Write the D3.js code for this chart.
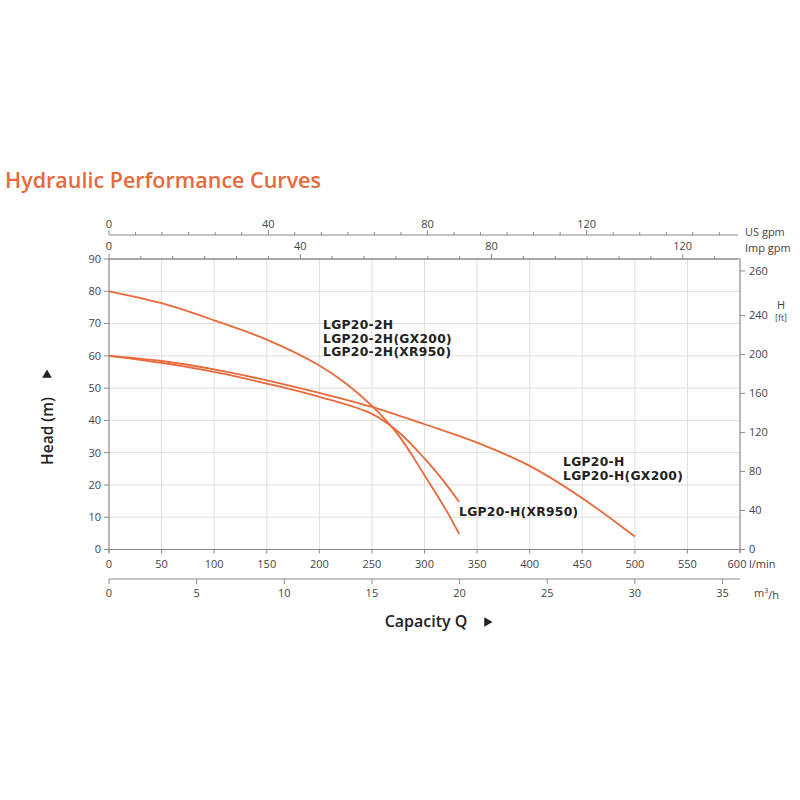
<!DOCTYPE html>
<html>
<head>
<meta charset="utf-8">
<script src="https://cdn.jsdelivr.net/npm/d3@7"></script>
<style>
  html, body { margin: 0; padding: 0; background: #fff; }
  svg { display: block; font-family: "Open Sans", "DejaVu Sans", sans-serif; }
</style>
</head>
<body>
<div id="chart"></div>
<script>
// Flow points (l/min) and heads (m)
const flow2H = [0, 50, 100, 150, 200, 225, 250, 275, 300, 320, 333];
const head2H = [80, 76.3, 71, 65, 57, 51.5, 44.5, 35.5, 23, 12.5, 4.8];

const flowXR950 = [0, 50, 100, 150, 200, 250, 275, 300, 320, 333];
const headXR950 = [60, 57.8, 55, 51.4, 47.3, 42, 36.5, 28.2, 20.4, 14.7];

const flowH = [0, 50, 100, 150, 200, 250, 300, 350, 400, 450, 500];
const headH = [60, 58.4, 55.8, 52.4, 48.5, 44.2, 38.8, 33.1, 25.9, 15.9, 4];

// Axis ticks
const lminTicks = [0, 50, 100, 150, 200, 250, 300, 350, 400, 450, 500, 550, 600];
const m3hTicks = [0, 5, 10, 15, 20, 25, 30, 35];
const headTicks = [0, 10, 20, 30, 40, 50, 60, 70, 80, 90];
const ftTicks = [0, 40, 80, 120, 160, 200, 240, 260];
const usGpmTicks = [0, 40, 80, 120];
const impGpmTicks = [0, 40, 80, 120];

const labels2H = ['LGP20-2H', 'LGP20-2H(GX200)', 'LGP20-2H(XR950)'];
const labelsH = ['LGP20-H', 'LGP20-H(GX200)'];
const labelXR = 'LGP20-H(XR950)';

const ORANGE = '#e8693a';
const AXIS = '#8a8a8a';
const GRID = '#dedede';
const TEXT = '#444';

const width = 800, height = 800;
const svg = d3.select('#chart').append('svg')
    .attr('width', width)
    .attr('height', height);

const x = d3.scaleLinear().domain([0, 600]).range([109, 740]);
const y = d3.scaleLinear().domain([0, 90]).range([549.5, 259]);

// unit conversions for the secondary axes
const M3H_TO_LMIN = 1000 / 60;
const USGPM_TO_LMIN = 3.785;
const IMPGPM_TO_LMIN = 4.546;
const FT_TO_M = 0.3048;

const xM3h = d3.scaleLinear().domain([0, 600 / M3H_TO_LMIN]).range(x.range());
const xUs = d3.scaleLinear().domain([0, 600 / USGPM_TO_LMIN]).range(x.range());
const xImp = d3.scaleLinear().domain([0, 600 / IMPGPM_TO_LMIN]).range(x.range());
// the 260 ft label sits near the top edge in the original sheet
const yFt = d3.scaleLinear().domain([0, 240, 260])
    .range([y(0), y(240 * FT_TO_M) + 2, y(86.3)]);

// Title
svg.append('text')
    .attr('x', 5)
    .attr('y', 188)
    .attr('fill', ORANGE)
    .attr('font-size', '21.5px')
    .attr('font-weight', 600)
    .text('Hydraulic Performance Curves');

// Grid
const grid = svg.append('g');
lminTicks.slice(1, -1).forEach(t => {
    grid.append('line')
        .attr('x1', x(t)).attr('x2', x(t))
        .attr('y1', y(0)).attr('y2', y(90))
        .attr('stroke', GRID).attr('stroke-width', 1);
});
headTicks.slice(1, -1).forEach(t => {
    grid.append('line')
        .attr('x1', x(0)).attr('x2', x(600))
        .attr('y1', y(t)).attr('y2', y(t))
        .attr('stroke', GRID).attr('stroke-width', 1);
});

// Frame lines
const frame = svg.append('g').attr('stroke', AXIS).attr('stroke-width', 1.2);
frame.append('line').attr('x1', x(0)).attr('x2', x(0)).attr('y1', y(90)).attr('y2', y(0) + 3);
frame.append('line').attr('x1', x(600)).attr('x2', x(600)).attr('y1', y(90)).attr('y2', y(0) + 3);
frame.append('line').attr('x1', x(0)).attr('x2', x(600)).attr('y1', y(0)).attr('y2', y(0));
frame.append('line').attr('x1', x(0)).attr('x2', x(600)).attr('y1', y(90)).attr('y2', y(90));

function tickText(g, tx, ty, str, anchor) {
    g.append('text')
        .attr('x', tx).attr('y', ty)
        .attr('text-anchor', anchor || 'middle')
        .attr('dy', '0.35em')
        .attr('fill', TEXT)
        .attr('font-size', '11px')
        .text(str);
}

// Left axis: Head (m)
const left = svg.append('g');
headTicks.forEach(t => {
    left.append('line')
        .attr('x1', x(0) - 5).attr('x2', x(0))
        .attr('y1', y(t)).attr('y2', y(t))
        .attr('stroke', AXIS);
    tickText(left, x(0) - 8, y(t), t, 'end');
});

// Right axis: H (ft)
const right = svg.append('g');
ftTicks.forEach(t => {
    right.append('line')
        .attr('x1', x(600)).attr('x2', x(600) + 5)
        .attr('y1', yFt(t)).attr('y2', yFt(t))
        .attr('stroke', AXIS);
    tickText(right, x(600) + 9, yFt(t), t, 'start');
});
right.append('text')
    .attr('x', 781).attr('y', 309)
    .attr('text-anchor', 'middle')
    .attr('fill', TEXT).attr('font-size', '11px')
    .text('H');
right.append('text')
    .attr('x', 781).attr('y', 321)
    .attr('text-anchor', 'middle')
    .attr('fill', TEXT).attr('font-size', '9px')
    .text('[ft]');

// Bottom axis: l/min
const bottom = svg.append('g');
lminTicks.forEach(t => {
    bottom.append('line')
        .attr('x1', x(t)).attr('x2', x(t))
        .attr('y1', y(0)).attr('y2', y(0) + 4)
        .attr('stroke', AXIS);
    tickText(bottom, t === 600 ? x(t) - 3 : x(t), 564, t);
});
bottom.append('text')
    .attr('x', x(600) + 9).attr('y', 564)
    .attr('dy', '0.35em')
    .attr('fill', TEXT).attr('font-size', '11px')
    .text('l/min');

// Second bottom axis: m3/h
const m3Y = 579;
const m3 = svg.append('g');
m3.append('line')
    .attr('x1', xM3h(0)).attr('x2', x(600))
    .attr('y1', m3Y).attr('y2', m3Y)
    .attr('stroke', AXIS).attr('stroke-width', 1.2);
m3hTicks.forEach(t => {
    m3.append('line')
        .attr('x1', xM3h(t)).attr('x2', xM3h(t))
        .attr('y1', m3Y).attr('y2', m3Y + 5)
        .attr('stroke', AXIS);
    tickText(m3, xM3h(t), 593, t);
});
const m3Label = m3.append('text')
    .attr('x', 754).attr('y', 593)
    .attr('dy', '0.35em')
    .attr('fill', TEXT).attr('font-size', '11px');
m3Label.append('tspan').text('m');
m3Label.append('tspan').attr('font-size', '7px').attr('dy', '-0.5em').text('3');
m3Label.append('tspan').attr('dy', '0.5em').text('/h');

// Top axes: US gpm and Imp gpm
function topAxis(scale, majors, axisY, labelY, unit, unitY) {
    const g = svg.append('g');
    g.append('line')
        .attr('x1', scale(0)).attr('x2', x(600) - 2)
        .attr('y1', axisY).attr('y2', axisY)
        .attr('stroke', AXIS).attr('stroke-width', 1.2);
    const step = 40 / 6;
    const maxV = scale.domain()[1];
    for (let i = 0; i * step <= maxV; i++) {
        const v = i * step;
        const major = i % 6 === 0;
        g.append('line')
            .attr('x1', scale(v)).attr('x2', scale(v))
            .attr('y1', axisY).attr('y2', axisY - (major ? 5 : 3))
            .attr('stroke', AXIS);
    }
    majors.forEach(t => tickText(g, scale(t), labelY, t));
    g.append('text')
        .attr('x', 745).attr('y', unitY)
        .attr('dy', '0.35em')
        .attr('fill', TEXT).attr('font-size', '11px')
        .text(unit);
}
topAxis(xUs, usGpmTicks, 235, 224, 'US gpm', 232);
topAxis(xImp, impGpmTicks, y(90), 246, 'Imp gpm', 248);

// Curves
const line = d3.line()
    .x(d => x(d[0]))
    .y(d => y(d[1]))
    .curve(d3.curveCatmullRom.alpha(0.5));

const curves = [
    d3.zip(flow2H, head2H),
    d3.zip(flowXR950, headXR950),
    d3.zip(flowH, headH)
];
svg.append('g').selectAll('path')
    .data(curves)
    .enter().append('path')
    .attr('d', line)
    .attr('fill', 'none')
    .attr('stroke', ORANGE)
    .attr('stroke-width', 1.8);

// Curve labels
function labelBlock(lines, lx, ly, lh) {
    const t = svg.append('text')
        .attr('x', lx).attr('y', ly)
        .attr('fill', '#222')
        .attr('font-family', '"DejaVu Sans", sans-serif')
        .attr('font-size', '12.3px')
        .attr('font-weight', 700)
        .attr('letter-spacing', '0.3px');
    lines.forEach((s, i) => {
        t.append('tspan').attr('x', lx).attr('dy', i === 0 ? 0 : lh).text(s);
    });
}
labelBlock(labels2H, 323, 329, 13.5);
labelBlock(labelsH, 563, 466, 13.5);
labelBlock([labelXR], 459, 516, 13.5);

// Axis titles
svg.append('text')
    .attr('transform', 'translate(53,431) rotate(-90)')
    .attr('text-anchor', 'middle')
    .attr('fill', '#222')
    .attr('font-size', '15.5px')
    .attr('font-weight', 600)
    .text('Head (m)');
svg.append('path')
    .attr('d', d3.symbol(d3.symbolTriangle, 40)())
    .attr('transform', 'translate(47,375)')
    .attr('fill', '#222');

svg.append('text')
    .attr('x', 426).attr('y', 627)
    .attr('text-anchor', 'middle')
    .attr('fill', '#222')
    .attr('font-size', '16px')
    .attr('font-weight', 600)
    .text('Capacity Q');
svg.append('path')
    .attr('d', d3.symbol(d3.symbolTriangle, 40)())
    .attr('transform', 'translate(487,622) rotate(90)')
    .attr('fill', '#222');
</script>
</body>
</html>
